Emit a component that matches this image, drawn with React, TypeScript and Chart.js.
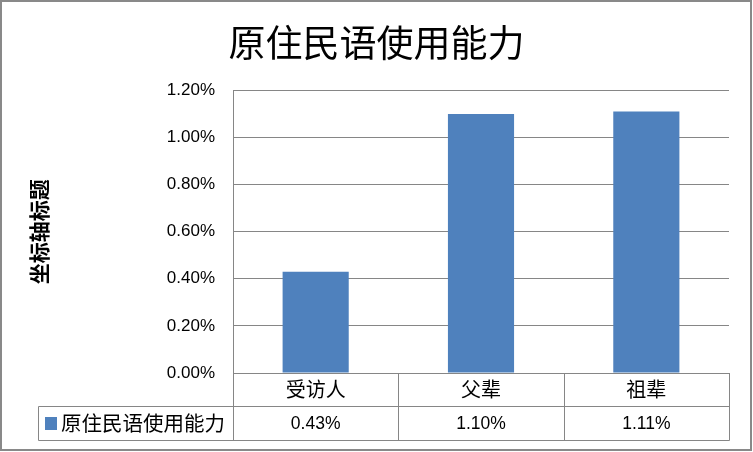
import React, { useEffect, useRef } from 'react';
import { Chart, registerables } from 'chart.js';

Chart.register(...registerables);

const chartTitle = '原住民语使用能力';
const yAxisTitle = '坐标轴标题';
const seriesName = '原住民语使用能力';
const categories = ['受访人', '父辈', '祖辈'];
const values = [0.43, 1.1, 1.11];
const yTicks = [0, 0.2, 0.4, 0.6, 0.8, 1.0, 1.2];

const CJK = '"Noto Sans CJK SC", "Noto Sans", sans-serif';
const LAT = '"Liberation Sans", Arial, sans-serif';
const GRAY = '#868686';
const BLUE = '#4F81BD';

const fmt = (v: number) => v.toFixed(2) + '%';

const tablePlugin = {
  id: 'dataTable',
  afterDraw(chart: any) {
    const { ctx, chartArea } = chart;
    const xs = chart.scales.x;
    const n = categories.length;
    const colW = (chartArea.right - chartArea.left) / n;
    const top = chartArea.bottom;
    const row1 = top + 33;
    const row2 = row1 + 34;
    const tableLeft = 38;
    const bounds: number[] = [];
    for (let i = 0; i < n; i++) bounds.push(xs.getPixelForValue(i) - colW / 2);
    bounds.push(xs.getPixelForValue(n - 1) + colW / 2);

    ctx.save();
    ctx.strokeStyle = GRAY;
    ctx.lineWidth = 1;
    ctx.beginPath();
    bounds.forEach((b) => {
      const px = Math.round(b) + 0.5;
      ctx.moveTo(px, top);
      ctx.lineTo(px, row2 + 0.5);
    });
    const lx = tableLeft + 0.5;
    ctx.moveTo(lx, row1 + 0.5);
    ctx.lineTo(lx, row2 + 0.5);
    ctx.moveTo(lx, row1 + 0.5);
    ctx.lineTo(Math.round(bounds[n]) + 0.5, row1 + 0.5);
    ctx.moveTo(lx, row2 + 0.5);
    ctx.lineTo(Math.round(bounds[n]) + 0.5, row2 + 0.5);
    ctx.stroke();

    ctx.fillStyle = '#000';
    ctx.textAlign = 'center';
    ctx.textBaseline = 'middle';
    categories.forEach((c, i) => {
      const cx = xs.getPixelForValue(i);
      ctx.font = '20px ' + CJK;
      ctx.fillText(c, cx, (top + row1) / 2);
      ctx.font = '17.5px ' + LAT;
      ctx.fillText(fmt(values[i]), cx, (row1 + row2) / 2 + 1);
    });

    // legend key
    ctx.fillStyle = BLUE;
    ctx.fillRect(45, 417, 12, 13);
    ctx.fillStyle = '#000';
    ctx.textAlign = 'left';
    ctx.font = '20.5px ' + CJK;
    ctx.fillText(seriesName, 61, (row1 + row2) / 2);

    // outer border
    ctx.strokeStyle = '#898989';
    ctx.lineWidth = 2;
    ctx.strokeRect(1, 1, 750, 449);
    ctx.restore();
  },
};

export default function App() {
  const ref = useRef<HTMLCanvasElement | null>(null);

  useEffect(() => {
    if (!ref.current) return;
    const chart = new Chart(ref.current, {
      type: 'bar',
      data: {
        labels: categories,
        datasets: [
          {
            label: seriesName,
            data: values,
            backgroundColor: BLUE,
            borderWidth: 0,
            barPercentage: 0.4,
            categoryPercentage: 1,
          },
        ],
      },
      options: {
        responsive: false,
        animation: false,
        devicePixelRatio: 1,
        layout: { padding: { left: 24, right: 24, top: 0, bottom: 79 } },
        plugins: {
          legend: { display: false },
          tooltip: { enabled: false },
          title: {
            display: true,
            text: chartTitle,
            color: '#000',
            font: { family: CJK, size: 37, weight: 'normal' },
            padding: { top: 21, bottom: 25 },
          },
        },
        scales: {
          x: {
            display: false,
          },
          y: {
            min: 0,
            max: 1.2,
            afterBuildTicks: (s: any) => {
              s.ticks = yTicks.map((v) => ({ value: v }));
            },
            afterFit: (s: any) => {
              s.width = 209;
            },
            grid: { color: GRAY, drawTicks: false, lineWidth: 1 },
            border: { display: true, color: GRAY, width: 1 },
            ticks: {
              padding: 18,
              color: '#000',
              font: { family: LAT, size: 17 },
              callback: (v: any) => fmt(Number(v)),
            },
            title: {
              display: true,
              text: yAxisTitle,
              color: '#000',
              font: { family: CJK, size: 21, weight: 'bold' },
              padding: { top: 2, bottom: 0 },
            },
          },
        },
      },
      plugins: [tablePlugin],
    });
    return () => chart.destroy();
  }, []);

  return (
    <div style={{ position: 'absolute', left: 0, top: 0, width: 753, height: 452, background: '#fff' }}>
      <canvas ref={ref} width={753} height={452} style={{ display: 'block' }} />
    </div>
  );
}
